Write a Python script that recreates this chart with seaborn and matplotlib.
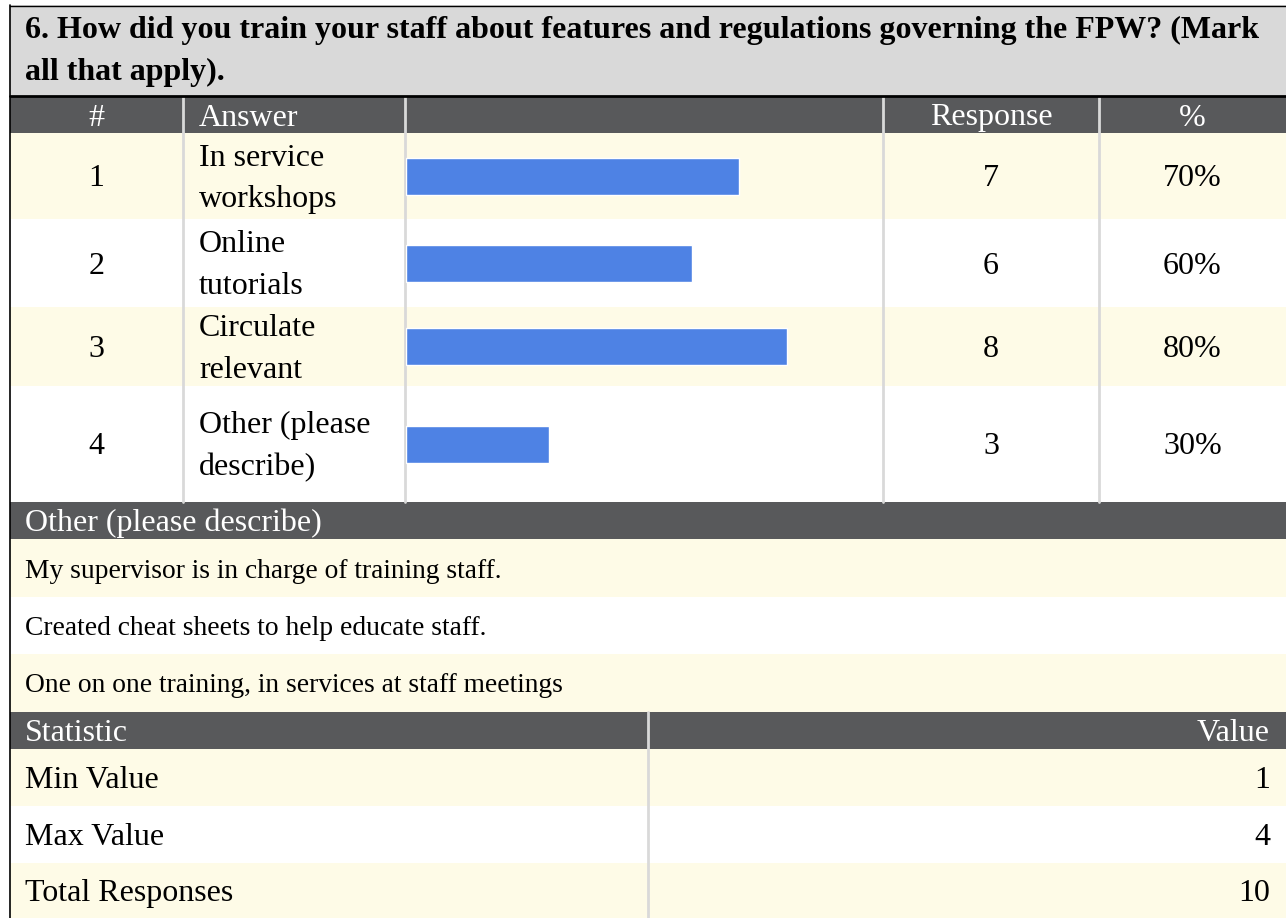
import matplotlib
matplotlib.use("Agg")
import matplotlib.pyplot as plt
from matplotlib.patches import Rectangle
import seaborn as sns

# survey data
QUESTION_LINES = [
    "6. How did you train your staff about features and regulations governing the FPW? (Mark",
    "all that apply).",
]
HEADERS = ["#", "Answer", "", "Response", "%"]
ROW_NUMBERS = [1, 2, 3, 4]
ANSWERS = [
    ["In service", "workshops"],
    ["Online", "tutorials"],
    ["Circulate", "relevant"],
    ["Other (please", "describe)"],
]
RESPONSES = [7, 6, 8, 3]
PERCENTS = [70, 60, 80, 30]
OTHER_HEADER = "Other (please describe)"
OTHER_TEXTS = [
    "My supervisor is in charge of training staff.",
    "Created cheat sheets to help educate staff.",
    "One on one training, in services at staff meetings",
]
STAT_HEADERS = ["Statistic", "Value"]
STAT_NAMES = ["Min Value", "Max Value", "Total Responses"]
STAT_VALUES = [1, 4, 10]

# colours
DARK = "#58595b"
YELLOW = "#fefbe7"
TITLE_BG = "#d9d9d9"
GRID = "#d9d9d9"
BLUE = "#4e82e4"

# layout in pixels
W, H = 1286, 918
COLS = [10, 183, 405, 883, 1099, W]
ROW_EDGES = [133, 219, 307, 386, 502]
OTHER_EDGES = [539, 597, 654, 712]
STAT_EDGES = [749, 806, 863, 918]
STAT_SPLIT = 648

sns.set_style("white")
plt.rcParams["font.family"] = ["Liberation Serif", "DejaVu Serif"]

fig = plt.figure(figsize=(W / 100, H / 100), dpi=100)
ax = fig.add_axes([0, 0, 1, 1])
ax.set_xlim(0, W)
ax.set_ylim(H, 0)
ax.axis("off")

FS = 23
FS_NOTE = 19.8
OFF = 10.5  # baseline below the row centre


def band(y0, y1, color, x0=10, x1=W):
    ax.add_patch(Rectangle((x0, y0), x1 - x0, y1 - y0, facecolor=color,
                           edgecolor="none", zorder=1))


def label(x, y, s, ha="left", color="black", size=FS, weight="normal"):
    ax.text(x, y, s, ha=ha, va="baseline", color=color, fontsize=size,
            fontweight=weight, zorder=5)


# title box
band(5, 95, TITLE_BG)
ax.plot([10, W], [5.5, 5.5], color="black", lw=1, zorder=4)
ax.plot([10, W], [96, 96], color="black", lw=2, zorder=4)
label(25, 38, QUESTION_LINES[0], size=23, weight="bold")
label(25, 80, QUESTION_LINES[1], size=23, weight="bold")

# answer table header
band(97, 133, DARK)
hb = 125.5
label((COLS[0] + COLS[1]) / 2, hb, HEADERS[0], ha="center", color="white")
label(199, hb, HEADERS[1], color="white")
label((COLS[3] + COLS[4]) / 2, hb, HEADERS[3], ha="center", color="white")
label((COLS[4] + COLS[5]) / 2, hb, HEADERS[4], ha="center", color="white")

total = STAT_VALUES[2]
for i in range(len(ROW_NUMBERS)):
    y0, y1 = ROW_EDGES[i], ROW_EDGES[i + 1]
    yc = (y0 + y1) / 2
    band(y0, y1, YELLOW if i % 2 == 0 else "white")
    label((COLS[0] + COLS[1]) / 2, yc + OFF, str(ROW_NUMBERS[i]), ha="center")
    label(199, yc - 21 + OFF, ANSWERS[i][0])
    label(199, yc + 21 + OFF, ANSWERS[i][1])
    label((COLS[3] + COLS[4]) / 2, yc + OFF, str(RESPONSES[i]), ha="center")
    label((COLS[4] + COLS[5]) / 2, yc + OFF, f"{PERCENTS[i]}%", ha="center")

    # bar cell drawn by seaborn
    bx = fig.add_axes([406 / W, 1 - y1 / H, 476 / W, (y1 - y0) / H])
    sns.barplot(x=[RESPONSES[i]], y=[" ".join(ANSWERS[i])], orient="h",
                color=BLUE, saturation=1, width=37 / (y1 - y0), ax=bx)
    bx.set_xlim(0, total)
    bx.set_ylim(0.5, -0.5)
    bx.patch.set_alpha(0)
    bx.axis("off")

for x in COLS[1:5]:
    ax.plot([x, x], [97, ROW_EDGES[-1]], color=GRID, lw=2, zorder=3)

# other responses
band(502, 539, DARK)
label(25, 531, OTHER_HEADER, color="white")
for i, txt in enumerate(OTHER_TEXTS):
    y0, y1 = OTHER_EDGES[i], OTHER_EDGES[i + 1]
    band(y0, y1, YELLOW if i % 2 == 0 else "white")
    label(25, (y0 + y1) / 2 + 9.5, txt, size=FS_NOTE)

# statistics
band(712, 749, DARK)
label(25, 741, STAT_HEADERS[0], color="white")
label(1270, 741, STAT_HEADERS[1], ha="right", color="white")
for i, name in enumerate(STAT_NAMES):
    y0, y1 = STAT_EDGES[i], STAT_EDGES[i + 1]
    yc = (y0 + y1) / 2
    band(y0, y1, YELLOW if i % 2 == 0 else "white")
    label(25, yc + OFF, name)
    label(1270, yc + OFF, str(STAT_VALUES[i]), ha="right")
ax.plot([STAT_SPLIT, STAT_SPLIT], [712, H], color=GRID, lw=2, zorder=3)

# left border
ax.plot([9.5, 9.5], [5, H], color="black", lw=1.2, zorder=4)

fig.savefig("out.png", dpi=100)
